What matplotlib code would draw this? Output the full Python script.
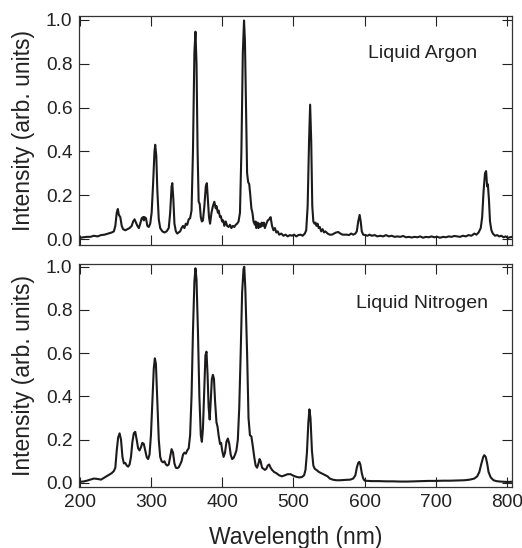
import matplotlib
matplotlib.use("Agg")
import matplotlib.pyplot as plt

# spectra (wavelength in nm, normalised intensity)
argon_wl = [200, 205, 210, 215, 220, 225, 230, 235, 240, 245, 248, 250, 252, 253.5, 255, 257, 259, 261,
            264, 267, 270, 273, 275, 277, 279, 281, 283, 285, 287, 289, 290, 291, 293, 295, 297, 299,
            301, 303, 305, 306, 307.5, 309, 311, 313, 316, 319, 322, 325, 327, 329, 330, 331.5, 333,
            335, 337, 339, 341, 343, 345, 347, 349, 351, 353, 355, 357, 359, 361, 362.5, 364, 365.5,
            367, 368.5, 370, 371.5, 373, 375, 377, 378.5, 380, 381.5, 383, 385, 387, 389, 391, 392,
            394, 395, 397, 398, 400, 401.5, 403, 405, 407, 409, 411, 413, 415, 417, 419, 421, 423,
            425, 427, 429, 430.7, 432, 433.5, 435, 436.5, 438, 439.5, 441, 442.5, 444, 446, 447, 448,
            450, 451, 452.5, 454, 455.5, 457, 458.5, 460, 462, 464, 466, 468, 469, 470, 472, 474, 476,
            478, 480, 483, 486, 489, 492, 495, 498, 501, 504, 507, 510, 513, 516, 518, 520, 522, 523.5,
            525, 526.5, 528, 529.5, 531, 532.5, 534, 535.5, 537, 539, 541, 543, 545, 548, 551, 554,
            557, 560, 563, 566, 569, 572, 575, 578, 581, 584, 587, 589, 591, 593, 594.5, 596, 598,
            601, 604, 607, 610, 614, 618, 622, 626, 630, 634, 638, 642, 646, 650, 654, 658, 662, 666,
            670, 674, 678, 682, 686, 690, 694, 698, 702, 706, 710, 714, 718, 722, 726, 730, 734, 738,
            742, 746, 750, 754, 757, 760, 763, 765, 767, 769, 770.5, 772, 773, 774.5, 776, 778, 780,
            783, 786, 789, 792, 795, 798, 801, 804, 807]
argon_int = [0.005, 0.008, 0.01, 0.01, 0.015, 0.012, 0.018, 0.02, 0.025, 0.03, 0.035, 0.06, 0.12, 0.137, 0.11, 0.10, 0.06, 0.045,
             0.04, 0.045, 0.05, 0.06, 0.08, 0.09, 0.075, 0.06, 0.05, 0.07, 0.095, 0.10, 0.085, 0.10, 0.095, 0.06, 0.055, 0.07,
             0.12, 0.25, 0.40, 0.43, 0.38, 0.22, 0.09, 0.05, 0.035, 0.03, 0.035, 0.05, 0.12, 0.24, 0.255, 0.18, 0.07,
             0.035, 0.025, 0.03, 0.035, 0.05, 0.06, 0.05, 0.07, 0.065, 0.09, 0.095, 0.13, 0.40, 0.85, 0.946, 0.80, 0.40,
             0.17, 0.16, 0.10, 0.08, 0.085, 0.15, 0.24, 0.255, 0.18, 0.10, 0.07, 0.12, 0.15, 0.17, 0.14, 0.15,
             0.12, 0.13, 0.10, 0.105, 0.08, 0.085, 0.06, 0.08, 0.06, 0.055, 0.065, 0.05, 0.06, 0.055, 0.065, 0.07, 0.08,
             0.12, 0.40, 0.85, 0.997, 0.90, 0.60, 0.30, 0.26, 0.25, 0.20, 0.14, 0.12, 0.08, 0.065, 0.08, 0.05,
             0.075, 0.05, 0.07, 0.055, 0.075, 0.06, 0.075, 0.05, 0.07, 0.085, 0.09, 0.10, 0.08, 0.06, 0.04, 0.05, 0.03,
             0.035, 0.02, 0.025, 0.015, 0.02, 0.012, 0.018, 0.015, 0.02, 0.012, 0.018, 0.02, 0.015, 0.025, 0.04, 0.15, 0.45, 0.613,
             0.45, 0.15, 0.08, 0.07, 0.075, 0.06, 0.07, 0.05, 0.055, 0.035, 0.045, 0.03, 0.035, 0.025, 0.02, 0.02,
             0.025, 0.03, 0.032, 0.025, 0.02, 0.02, 0.02, 0.018, 0.025, 0.02, 0.025, 0.035, 0.08, 0.11, 0.08, 0.035, 0.02,
             0.018, 0.015, 0.02, 0.015, 0.018, 0.012, 0.015, 0.012, 0.018, 0.012, 0.015, 0.01, 0.012, 0.01, 0.014, 0.008, 0.01, 0.007,
             0.01, 0.008, 0.012, 0.006, 0.01, 0.008, 0.012, 0.008, 0.01, 0.006, 0.01, 0.008, 0.012, 0.01, 0.014, 0.012, 0.01, 0.015,
             0.012, 0.018, 0.015, 0.025, 0.02, 0.03, 0.05, 0.10, 0.22, 0.30, 0.31, 0.24, 0.25, 0.18, 0.08, 0.04, 0.025,
             0.015, 0.018, 0.012, 0.015, 0.008, 0.012, 0.005, 0.008, 0.01]

nitrogen_wl = [200, 205, 210, 215, 220, 225, 230, 235, 240, 245, 248, 250, 252, 254, 256, 258, 260, 262, 264,
               266, 268, 270, 272, 274, 276, 278, 280, 282, 284, 286, 288, 290, 292, 294, 296, 298, 300,
               302, 304, 305.5, 307, 309, 311, 313, 315, 317, 319, 321, 323, 325, 327, 329, 331, 333, 335,
               337, 339, 341, 343, 345, 347, 349, 351, 353, 355, 357, 359, 361, 362.5, 364, 366, 368, 370,
               371.5, 373, 375, 376.5, 378, 379.5, 381, 382.5, 384, 385.5, 387, 388.5, 390, 392, 393.5,
               395, 397, 398.5, 400, 402, 404, 406, 408, 410, 412, 414, 416, 418, 420, 422, 424, 426, 428,
               430, 431, 432.5, 435, 437, 439, 441, 443, 445, 447, 449, 451, 452.5, 454, 456, 458, 460,
               462, 464, 466, 468, 470, 473, 476, 480, 484, 488, 492, 496, 500, 504, 508, 512, 515, 517,
               519, 521, 522.5, 524, 526, 528, 530, 533, 536, 539, 542, 545, 548, 551, 555, 560, 565, 570,
               575, 580, 584, 587, 589, 591, 592.5, 594, 596, 598, 600, 605, 610, 620, 630, 640, 650, 660,
               670, 680, 690, 700, 710, 720, 730, 740, 748, 754, 758, 761, 764, 766.5, 768, 770, 772, 774,
               777, 781, 785, 790, 795, 800, 807]
nitrogen_int = [0.005, 0.006, 0.01, 0.015, 0.02, 0.018, 0.015, 0.025, 0.035, 0.045, 0.055, 0.07, 0.15, 0.21, 0.229, 0.20, 0.12, 0.09, 0.092,
                0.08, 0.075, 0.085, 0.12, 0.19, 0.23, 0.236, 0.20, 0.16, 0.15, 0.165, 0.185, 0.18, 0.15, 0.12, 0.11, 0.13, 0.22,
                0.38, 0.53, 0.576, 0.55, 0.38, 0.20, 0.12, 0.10, 0.095, 0.10, 0.085, 0.08, 0.085, 0.12, 0.156, 0.14, 0.09, 0.07,
                0.068, 0.072, 0.085, 0.10, 0.13, 0.14, 0.135, 0.15, 0.16, 0.22, 0.40, 0.70, 0.93, 0.993, 0.94, 0.70, 0.40, 0.22,
                0.19, 0.25, 0.45, 0.59, 0.607, 0.50, 0.35, 0.293, 0.38, 0.48, 0.50, 0.48, 0.38, 0.28, 0.26,
                0.22, 0.18, 0.185, 0.15, 0.12, 0.14, 0.19, 0.205, 0.18, 0.13, 0.11, 0.115, 0.13, 0.15, 0.20, 0.35, 0.60, 0.88,
                0.99, 1.0, 0.90, 0.60, 0.30, 0.22, 0.215, 0.17, 0.12, 0.08, 0.07, 0.09, 0.11, 0.10, 0.07, 0.065, 0.06,
                0.065, 0.08, 0.085, 0.07, 0.06, 0.05, 0.045, 0.035, 0.03, 0.035, 0.04, 0.04, 0.033, 0.028, 0.025, 0.027, 0.035, 0.06,
                0.14, 0.28, 0.34, 0.30, 0.15, 0.08, 0.065, 0.058, 0.05, 0.045, 0.04, 0.035, 0.03, 0.02, 0.015, 0.012, 0.012, 0.013,
                0.014, 0.015, 0.02, 0.035, 0.07, 0.092, 0.097, 0.085, 0.045, 0.02, 0.01, 0.009, 0.008, 0.008, 0.007, 0.007, 0.006, 0.006,
                0.007, 0.008, 0.009, 0.009, 0.01, 0.01, 0.011, 0.012, 0.015, 0.02, 0.03, 0.05, 0.09, 0.12, 0.128, 0.12, 0.09, 0.05,
                0.025, 0.012, 0.008, 0.006, 0.005, 0.004, 0.005]

x_ticks = [200, 300, 400, 500, 600, 700, 800]
y_ticks = [0.0, 0.2, 0.4, 0.6, 0.8, 1.0]

plt.rcParams['font.family'] = ['Liberation Sans', 'DejaVu Sans']

fig = plt.figure(figsize=(5.22, 5.48), dpi=100)
ax1 = fig.add_axes([0.152, 0.553, 0.829, 0.418])
ax2 = fig.add_axes([0.152, 0.111, 0.829, 0.407])

panels = [(ax1, argon_wl, argon_int, 'Liquid Argon', 0.667, 0.838, (-0.027, 1.018)),
          (ax2, nitrogen_wl, nitrogen_int, 'Liquid Nitrogen', 0.64, 0.825, (-0.02, 1.012))]

for ax, wl, inten, name, tx, ty, ylim in panels:
    ax.plot(wl, inten, color='#1c1a1a', linewidth=1.5)
    ax.set_xlim(199.5, 807)
    ax.set_ylim(*ylim)
    ax.set_xticks(x_ticks)
    ax.set_yticks(y_ticks)
    ax.set_yticklabels([f'{v:.1f}' for v in y_ticks])
    ax.tick_params(direction='in', length=7.5, width=0.8, top=True, right=True,
                   labelsize=13.8, pad=5, colors='#222222')
    ax.set_ylabel('Intensity (arb. units)', fontsize=16.5, color='#222222')
    ax.yaxis.set_label_coords(-0.103, 0.5)
    for s in ax.spines.values():
        s.set_linewidth(0.9)
        s.set_color('#333333')
    ax.text(tx, ty, name, transform=ax.transAxes, fontsize=14, ha='left', va='center', color='#222222')

ax1.tick_params(labelbottom=False)
ax2.set_xlabel('Wavelength (nm)', fontsize=16.5, color='#222222', labelpad=11)

fig.savefig('out.png', dpi=100)
